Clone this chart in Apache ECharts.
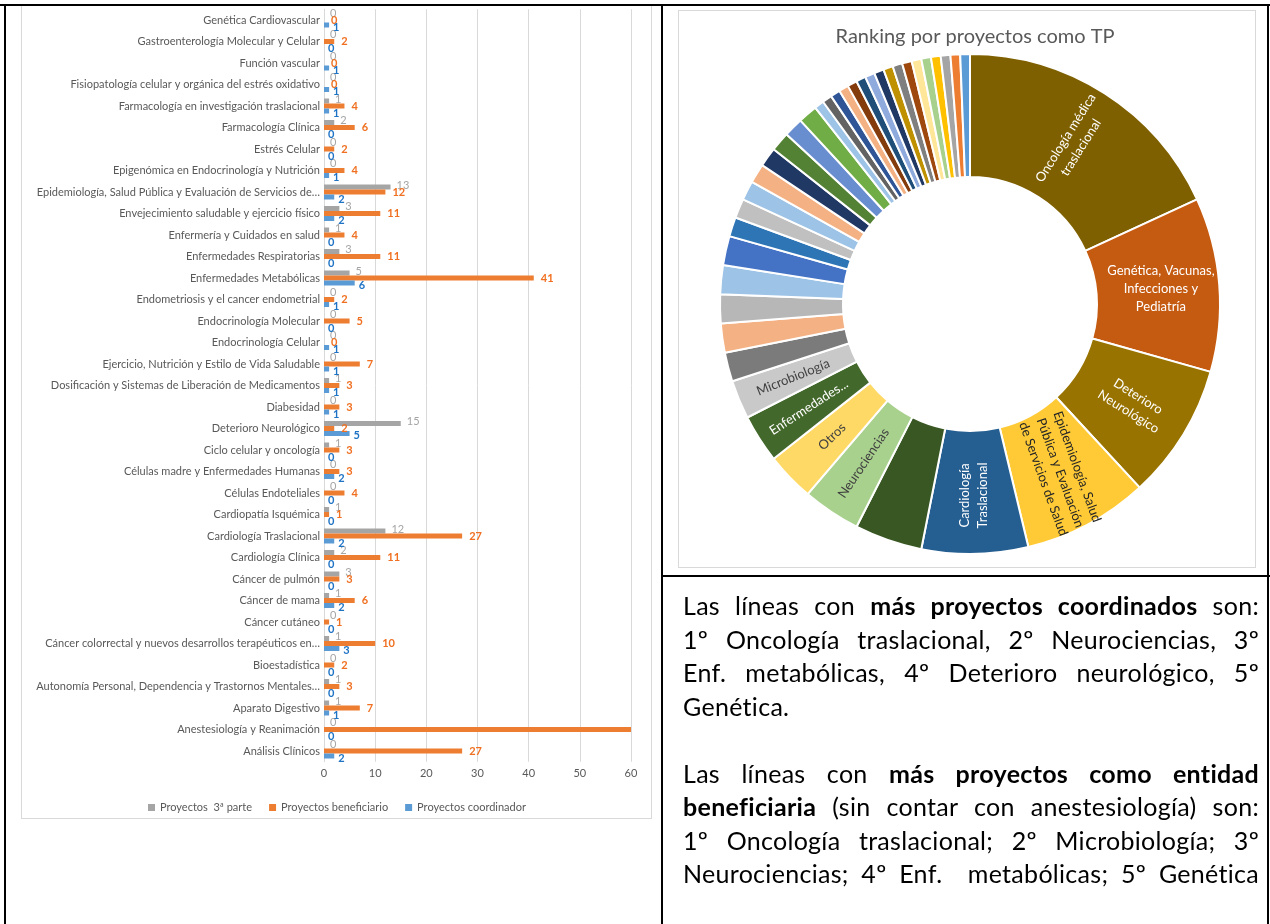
<!DOCTYPE html>
<html>
<head>
<meta charset="utf-8">
<script src="https://cdn.jsdelivr.net/npm/echarts@6/dist/echarts.min.js"></script>
<style>
  html, body { margin:0; padding:0; background:#fff; }
  body { width:1270px; height:924px; position:relative; overflow:hidden; font-family: Lato, "Open Sans", sans-serif; }
  #chart { position:absolute; left:0; top:0; width:1270px; height:924px; }
  .ln { position:absolute; background:#000; pointer-events:none; }
  .frame { position:absolute; border:1px solid #d9d9d9; pointer-events:none; box-sizing:border-box; }
  #txt { position:absolute; left:683px; top:589px; width:576px; font-size:25px; letter-spacing:0.3px; line-height:33.5px; color:#000; }
  #txt div { text-align:justify; text-align-last:justify; white-space:nowrap; }
  #txt div.last { text-align-last:left; }
</style>
</head>
<body>
<div class="frame" style="left:21px;top:5px;width:631px;height:814px;"></div>
<div class="frame" style="left:678px;top:10px;width:578px;height:558px;"></div>
<div id="chart"></div>
<div class="ln" style="left:0;top:4px;width:1270px;height:2px;"></div>
<div class="ln" style="left:4px;top:4px;width:2px;height:920px;"></div>
<div class="ln" style="left:661px;top:4px;width:2px;height:920px;"></div>
<div class="ln" style="left:1267px;top:4px;width:2px;height:920px;"></div>
<div class="ln" style="left:661px;top:575px;width:609px;height:2px;"></div>
<div id="txt">
  <div>Las líneas con <b>más proyectos coordinados</b> son:</div>
  <div>1º Oncología traslacional, 2º Neurociencias, 3º</div>
  <div>Enf. metabólicas, 4º Deterioro neurológico, 5º</div>
  <div class="last">Genética.</div>
  <div class="last">&nbsp;</div>
  <div>Las líneas con <b>más proyectos como entidad</b></div>
  <div><b>beneficiaria</b> (sin contar con anestesiología) son:</div>
  <div>1º Oncología traslacional; 2º Microbiología; 3º</div>
  <div>Neurociencias; 4º Enf.&nbsp; metabólicas; 5º Genética</div>
</div>
<script>
// ---- Bar chart data (bottom to top) ----
const categories = [
  "Análisis Clínicos",
  "Anestesiología y Reanimación",
  "Aparato Digestivo",
  "Autonomía Personal, Dependencia y Trastornos Mentales…",
  "Bioestadística",
  "Cáncer colorrectal y nuevos desarrollos terapéuticos en…",
  "Cáncer cutáneo",
  "Cáncer de mama",
  "Cáncer de pulmón",
  "Cardiología Clínica",
  "Cardiología Traslacional",
  "Cardiopatía Isquémica",
  "Células Endoteliales",
  "Células madre y Enfermedades Humanas",
  "Ciclo celular y oncología",
  "Deterioro Neurológico",
  "Diabesidad",
  "Dosificación y Sistemas de Liberación de Medicamentos",
  "Ejercicio, Nutrición y Estilo de Vida Saludable",
  "Endocrinología Celular",
  "Endocrinología Molecular",
  "Endometriosis y el cancer endometrial",
  "Enfermedades Metabólicas",
  "Enfermedades Respiratorias",
  "Enfermería y Cuidados en salud",
  "Envejecimiento saludable y ejercicio físico",
  "Epidemiología, Salud Pública y Evaluación de Servicios de…",
  "Epigenómica en Endocrinología y Nutrición",
  "Estrés Celular",
  "Farmacología Clínica",
  "Farmacología en investigación traslacional",
  "Fisiopatología celular y orgánica del estrés oxidativo",
  "Función vascular",
  "Gastroenterología Molecular y Celular",
  "Genética Cardiovascular"
];
const tercera     = [0,0,1,1,0,1,0,1,3,2,12,1,0,0,1,15,0,1,0,0,0,0,5,3,1,3,13,0,0,2,1,0,0,0,0];
const beneficiario= [27,60,7,3,2,10,1,6,3,11,27,1,4,3,3,2,3,3,7,0,5,2,41,11,4,11,12,4,2,6,4,0,0,2,0];
const coordinador = [2,0,1,0,0,3,0,2,0,0,2,0,0,2,0,5,1,1,1,1,0,1,6,0,0,2,2,1,0,0,1,1,1,0,1];
const seriesNames = ["Proyectos  3ª parte", "Proyectos beneficiario", "Proyectos coordinador"];
const xTicks = [0, 10, 20, 30, 40, 50, 60];

// ---- Donut data (clockwise from top) ----
const donutNames = [
  "Oncología médica traslacional", "Genética, Vacunas, Infecciones y Pediatría", "Deterioro Neurológico",
  "Epidemiología, Salud Pública y Evaluación de Servicios de Salud", "Cardiología Traslacional", "",
  "Neurociencias", "Otros", "Enfermedades...", "Microbiología",
  "", "", "", "", "", "", "", "", "", "", "", "", "",
  "", "", "", "", "", "", "", "", "", "", "", "", "", "", "", "", ""
];
const donutValues = [29,18,14,13,11,7,6,5,5,4,3,3,3,3,3,2,2,2,2,2,2,2,2,1,1,1,1,1,1,1,1,1,1,1,1,1,1,1,1,1];
const donutTitle = "Ranking por proyectos como TP";

// ---- styles ----
const donutColors = ["#7f6000","#c55a11","#997300","#ffca35","#255e91","#385723","#a9d18e","#ffd966","#43682b","#c9c9c9",
  "#7b7b7b","#f4b183","#b7b7b7","#9dc3e6","#4472c4","#2e75b6","#c0c0c0","#9dc3e6","#f4b183","#203864","#548235","#698ed0","#70ad47",
  "#9dc3e6","#636363","#2f5597","#f4b183","#843c0c","#1f4e79","#8faadc","#203864","#bf9000","#7f7f7f","#9e480e","#ffe699","#a9d18e","#ffc000","#a5a5a5","#ed7d31","#5b9bd5"];
const donutLabelStyle = {
  0: {text:"Oncología médica\ntraslacional", rotate:58, color:"#fff"},
  1: {text:"Genética, Vacunas,\nInfecciones y\nPediatría", rotate:0, color:"#fff"},
  2: {text:"Deterioro\nNeurológico", rotate:-32, color:"#fff"},
  3: {text:"Epidemiología, Salud\nPública y Evaluación\nde Servicios de Salud", rotate:-70, color:"#262626"},
  4: {text:"Cardiología\nTraslacional", rotate:90, color:"#fff"},
  6: {text:"Neurociencias", rotate:56, color:"#404040"},
  7: {text:"Otros", rotate:44, color:"#404040"},
  8: {text:"Enfermedades...", rotate:33, color:"#fff"},
  9: {text:"Microbiología", rotate:22, color:"#404040"}
};

const xMax = 60;
function barData(arr, hideOver) {
  return arr.map(v => (hideOver && v >= xMax) ? {value:v, label:{show:false}} : v);
}

const chart = echarts.init(document.getElementById('chart'), null, {renderer:'canvas'});
const font = 'Lato, "Open Sans", sans-serif';
const option = {
  animation: false,
  textStyle: {fontFamily: font},
  title: {
    text: donutTitle, left: 970, top: 22, textAlign: 'center',
    textStyle: {fontFamily: font, fontSize: 20, fontWeight: 'normal', color: '#595959'}
  },
  legend: {
    left: 143, top: 797, itemWidth: 7, itemHeight: 7, itemGap: 17, icon: 'rect',
    textStyle: {fontFamily: font, fontSize: 11, color: '#595959'},
    data: seriesNames
  },
  grid: {left: 324, width: 307, top: 9.25, height: 752.5, containLabel: false},
  xAxis: {
    type: 'value', min: 0, max: xMax, interval: 10,
    axisLine: {show:false}, axisTick: {show:false},
    splitLine: {lineStyle: {color:'#d9d9d9', width:1}},
    axisLabel: {color:'#595959', fontSize: 11, margin: 6, fontFamily: font,
      formatter: v => xTicks.indexOf(v) >= 0 ? String(v) : ''}
  },
  yAxis: {
    type: 'category', data: categories,
    axisLine: {show:true, lineStyle:{color:'#d9d9d9'}}, axisTick: {show:false},
    axisLabel: {color:'#595959', fontSize: 11, margin: 4, fontFamily: font, interval: 0}
  },
  series: [
    {
      name: seriesNames[0], type: 'bar', data: barData(tercera), barWidth: 5, barGap: '0%',
      itemStyle: {color:'#a5a5a5'},
      label: {show:true, position:'right', distance:6, color:'#a5a5a5', fontSize:11, fontFamily: font, offset:[0,-2]}
    },
    {
      name: seriesNames[1], type: 'bar', data: barData(beneficiario, true), barWidth: 5, barGap: '0%',
      itemStyle: {color:'#ed7d31'},
      label: {show:true, position:'right', distance:7, color:'#f07021', fontSize:11, fontWeight:'bold', fontFamily: font}
    },
    {
      name: seriesNames[2], type: 'bar', data: barData(coordinador), barWidth: 5, barGap: '0%',
      itemStyle: {color:'#5b9bd5'},
      label: {show:true, position:'right', distance:4, color:'#1f73c4', fontSize:11, fontWeight:'bold', fontFamily: font, offset:[0,2]}
    },
    {
      type: 'pie', center: [970, 304], radius: [127, 250], startAngle: 90, clockwise: true,
      silent: true, avoidLabelOverlap: false, legendHoverLink: false,
      itemStyle: {borderColor:'#fff', borderWidth: 2},
      label: {show:false},
      labelLine: {show:false},
      data: donutValues.map((v, i) => {
        const s = donutLabelStyle[i];
        const d = {name: donutNames[i] || (' ' + i), value: v, itemStyle: {color: donutColors[i]}};
        if (s) {
          d.label = {show:true, position:'inside', rotate: s.rotate, color: s.color,
            fontSize: 13, lineHeight: 18, fontFamily: font, formatter: s.text};
        }
        return d;
      })
    }
  ]
};
chart.setOption(option);
</script>
</body>
</html>
